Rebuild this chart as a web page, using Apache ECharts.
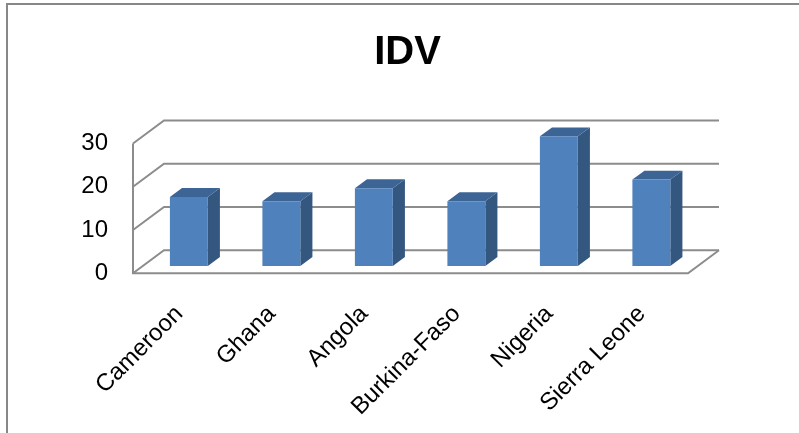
<!DOCTYPE html>
<html>
<head>
<meta charset="utf-8">
<script src="https://cdn.jsdelivr.net/npm/echarts@6/dist/echarts.min.js"></script>
<style>
html,body{margin:0;padding:0;background:#fff;}
#chart{width:799px;height:433px;}
</style>
</head>
<body>
<div id="chart"></div>
<script>
const categories = ['Cameroon', 'Ghana', 'Angola', 'Burkina-Faso', 'Nigeria', 'Sierra Leone'];
const idvValues = [16, 15, 18, 15, 30, 20];
const yTicks = [0, 10, 20, 30];
const chartTitle = 'IDV';

const DX = 31, DY = -23;      // depth offset of back wall
const T0 = 0.31, T1 = 0.70;   // bar depth range (fraction of floor depth)
const BAR_W = 0.41;           // bar width as fraction of category band
const LINE = '#8c8c8c';

const chart = echarts.init(document.getElementById('chart'), null, {renderer: 'canvas'});

const option = {
  animation: false,
  backgroundColor: '#fff',
  textStyle: {fontFamily: 'Liberation Sans'},
  graphic: [
    {type: 'rect', shape: {x: 7, y: 4, width: 830, height: 460}, style: {fill: 'none', stroke: '#888', lineWidth: 2}, z: 100},
    {type: 'text', x: 407.5, y: 53, style: {text: chartTitle, font: 'bold 40px "Liberation Sans"', fill: '#000', textAlign: 'center', textVerticalAlign: 'middle'}}
  ],
  grid: {left: 133, right: 111, top: 143.5, bottom: 159.8, containLabel: false},
  xAxis: {
    type: 'category',
    data: categories,
    axisLine: {show: false},
    axisTick: {show: false},
    splitLine: {show: false},
    axisLabel: {interval: 0, rotate: 45, fontSize: 24, color: '#000', margin: 37, fontFamily: 'Liberation Sans'}
  },
  yAxis: {
    type: 'value',
    min: 0, max: 30, interval: 10,
    axisLine: {show: false},
    axisTick: {show: false},
    splitLine: {show: false},
    axisLabel: {fontSize: 24, color: '#000', margin: 25, padding: [5, 0, 0, 0], fontFamily: 'Liberation Sans'}
  },
  series: [
    {
      type: 'custom',
      name: 'walls',
      clip: false,
      silent: true,
      z: 1,
      encode: {x: 0, y: 1},
      data: yTicks.map(v => [0, v]),
      renderItem: function (params, api) {
        const v = api.value(1);
        const band = api.size([1, 0])[0];
        const c = api.coord([0, v]);
        const x0 = c[0] - band / 2;
        const x1 = x0 + band * categories.length;
        const y = c[1];
        const children = [{
          type: 'polyline',
          shape: {points: [[x0, y], [x0 + DX, y + DY], [x1 + DX, y + DY]]},
          style: {stroke: LINE, lineWidth: 2, fill: null}
        }];
        if (v === 0) {
          const yTop = api.coord([0, yTicks[yTicks.length - 1]])[1];
          children.push({
            type: 'polyline',
            shape: {points: [[x0, yTop], [x0, y], [x1, y], [x1 + DX, y + DY]]},
            style: {stroke: LINE, lineWidth: 2, fill: null}
          });
        }
        return {type: 'group', children: children};
      }
    },
    {
      type: 'custom',
      name: 'IDV',
      clip: false,
      z: 2,
      encode: {x: 0, y: 1},
      data: categories.map((c, i) => [i, idvValues[i]]),
      renderItem: function (params, api) {
        const i = api.value(0), v = api.value(1);
        const band = api.size([1, 0])[0];
        const base = api.coord([i, 0]);
        const top = api.coord([i, v]);
        const w = band * BAR_W;
        const fx = base[0] + T0 * DX;
        const xl = fx - w / 2, xr = fx + w / 2;
        const yb = base[1] + T0 * DY, yt = top[1] + T0 * DY;
        const ddx = (T1 - T0) * DX, ddy = (T1 - T0) * DY;
        return {
          type: 'group',
          children: [
            {type: 'polygon', shape: {points: [[xr, yb], [xr, yt], [xr + ddx, yt + ddy], [xr + ddx, yb + ddy]]}, style: {fill: '#34577f'}},
            {type: 'polygon', shape: {points: [[xl, yt], [xr, yt], [xr + ddx, yt + ddy], [xl + ddx, yt + ddy]]}, style: {fill: '#3c6596'}},
            {type: 'rect', shape: {x: xl, y: yt, width: w, height: yb - yt}, style: {fill: '#4f81bd'}}
          ]
        };
      }
    }
  ]
};
chart.setOption(option);
</script>
</body>
</html>
